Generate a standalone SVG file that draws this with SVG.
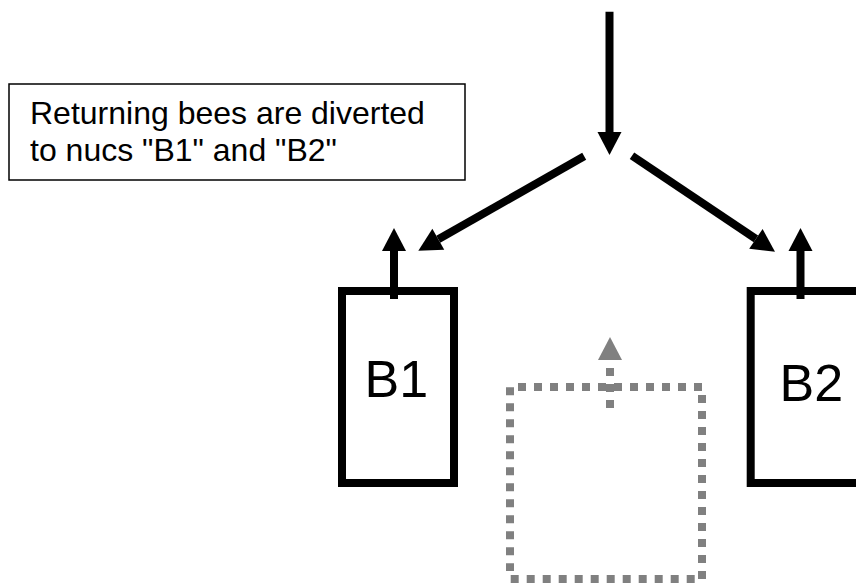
<svg xmlns="http://www.w3.org/2000/svg" width="856" height="583" viewBox="0 0 856 583">
  <style>
    .lbl { font-family: "Liberation Sans", Arial, sans-serif; fill: #000; }
    .note { font-size: 32px; }
    .big { font-size: 52px; }
    .hive { fill: #fff; stroke: #000; stroke-width: 8; }
    .conn { stroke: #000; stroke-width: 8; fill: none; }
    .dot { stroke: #808080; stroke-width: 8; stroke-dasharray: 8 8; fill: none; }
  </style>
  <defs>
    <marker id="ah" markerUnits="userSpaceOnUse" markerWidth="24" markerHeight="24" refX="0" refY="12" orient="auto" overflow="visible">
      <path d="M0,0 L23,12 L0,24 Z" fill="#000"/>
    </marker>
    <marker id="ahg" markerUnits="userSpaceOnUse" markerWidth="24" markerHeight="24" refX="0" refY="12" orient="auto" overflow="visible">
      <path d="M0,0 L23,12 L0,24 Z" fill="#808080"/>
    </marker>
  </defs>
  <rect width="856" height="583" fill="#fff"/>

  <g id="note">
    <rect x="9" y="84" width="456" height="96" fill="#fff" stroke="#000" stroke-width="1.5"/>
    <text class="lbl note" x="30" y="124">Returning bees are diverted</text>
    <text class="lbl note" x="30" y="161">to nucs "B1" and "B2"</text>
  </g>

  <g id="B1">
    <rect class="hive" x="342" y="291" width="112" height="192"/>
    <text class="lbl big" x="364.5" y="396.5">B1</text>
  </g>

  <g id="B2">
    <rect class="hive" x="750.7" y="291" width="112" height="192"/>
    <text class="lbl big" x="779.5" y="400.5">B2</text>
  </g>

  <g id="old-hive">
    <line class="dot" x1="518" y1="387" x2="702" y2="387"/>
    <line class="dot" x1="702" y1="395" x2="702" y2="579"/>
    <line class="dot" x1="510.7" y1="579" x2="695" y2="579"/>
    <line class="dot" x1="510" y1="387.3" x2="510" y2="571"/>
  </g>

  <g id="connectors">
    <line class="conn" x1="609.5" y1="11.7" x2="609.5" y2="132" marker-end="url(#ah)"/>
    <line class="conn" x1="584.2" y1="156.3" x2="438.3" y2="239.3" marker-end="url(#ah)"/>
    <line class="conn" x1="632" y1="155.7" x2="755.9" y2="238.9" marker-end="url(#ah)"/>
    <line class="conn" x1="394" y1="299" x2="394" y2="251" marker-end="url(#ah)"/>
    <line class="conn" x1="800.5" y1="299" x2="800.5" y2="251" marker-end="url(#ah)"/>
    <line class="dot" x1="610" y1="408" x2="610" y2="368" stroke-dashoffset="0"/>
    <line x1="610" y1="368" x2="610" y2="360" stroke="none" marker-end="url(#ahg)"/>
  </g>
</svg>
